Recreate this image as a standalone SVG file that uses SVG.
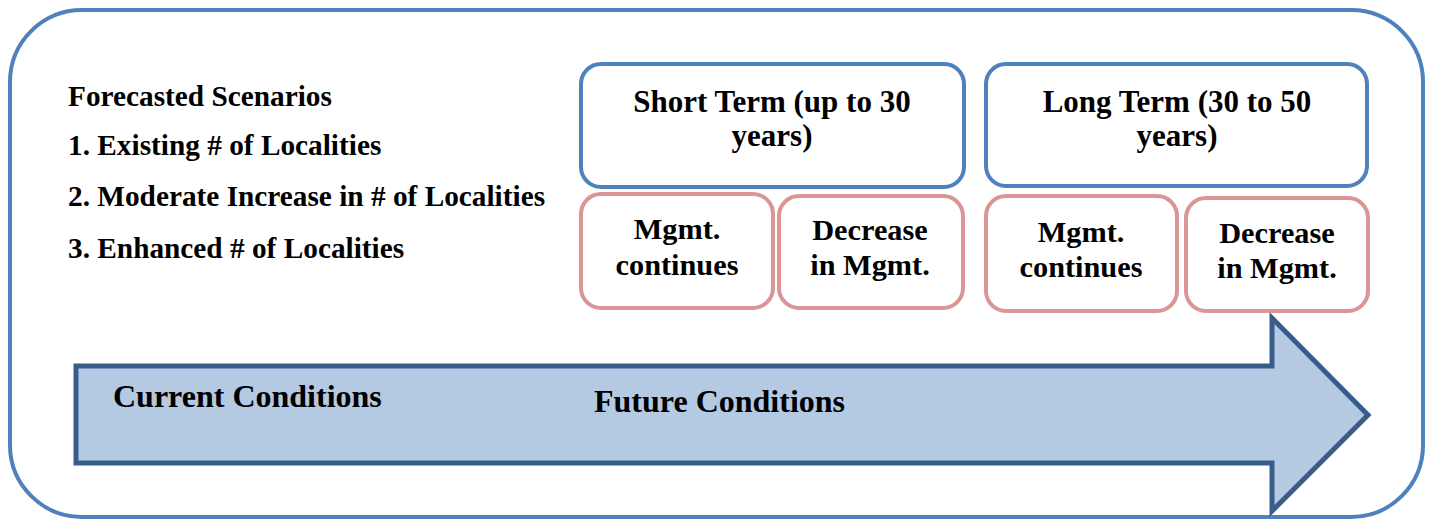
<svg xmlns="http://www.w3.org/2000/svg" width="1431" height="520" viewBox="0 0 1431 520">
<style>
.t{font-family:"Liberation Serif","Times New Roman",serif;font-weight:bold;fill:#000}
.blue{fill:#fff;stroke:#4F81BD;stroke-width:4}
.pink{fill:#fff;stroke:#D99694;stroke-width:4}
.box{font-size:30.3px;text-anchor:middle}
.head{font-size:31px}
.list{font-size:29.3px}
.arr{font-size:32px}
</style>
<rect id="frame" x="10" y="10" width="1413" height="507" rx="72" ry="72" fill="#fff" stroke="#4F81BD" stroke-width="4"/>
<g id="scenarios" class="t list">
<text x="68" y="106">Forecasted Scenarios</text>
<text x="68" y="155">1. Existing # of Localities</text>
<text x="68" y="206">2. Moderate Increase in # of Localities</text>
<text x="68" y="258">3. Enhanced # of Localities</text>
</g>
<g id="connectors">
<path id="arrow" d="M76,366 L1272,366 L1272,318 L1368,415 L1272,511 L1272,463 L76,463 Z" fill="#B4C9E2" stroke="#385D8A" stroke-width="5" stroke-linejoin="miter"/>
</g>
<g id="arrow-labels" class="t arr">
<text x="113" y="407">Current Conditions</text>
<text x="594" y="412">Future Conditions</text>
</g>
<g id="short-term">
<rect class="blue" x="581" y="64" width="383" height="123" rx="20"/>
<text class="t box head" x="772" y="112">Short Term (up to 30</text>
<text class="t box head" x="772" y="146">years)</text>
</g>
<g id="long-term">
<rect class="blue" x="986" y="64" width="381" height="122" rx="20"/>
<text class="t box head" x="1177" y="112">Long Term (30 to 50</text>
<text class="t box head" x="1177" y="146">years)</text>
</g>
<g id="st-continues">
<rect class="pink" x="581" y="194" width="192" height="114" rx="20"/>
<text class="t box" x="677" y="239">Mgmt.</text>
<text class="t box" x="677" y="275">continues</text>
</g>
<g id="st-decrease">
<rect class="pink" x="779" y="196" width="184" height="112" rx="20"/>
<text class="t box" x="870" y="240">Decrease</text>
<text class="t box" x="870" y="275">in Mgmt.</text>
</g>
<g id="lt-continues">
<rect class="pink" x="986" y="196" width="191" height="115" rx="20"/>
<text class="t box" x="1081" y="242">Mgmt.</text>
<text class="t box" x="1081" y="277">continues</text>
</g>
<g id="lt-decrease">
<rect class="pink" x="1186" y="198" width="182" height="113" rx="20"/>
<text class="t box" x="1277" y="243">Decrease</text>
<text class="t box" x="1277" y="278">in Mgmt.</text>
</g>
</svg>
